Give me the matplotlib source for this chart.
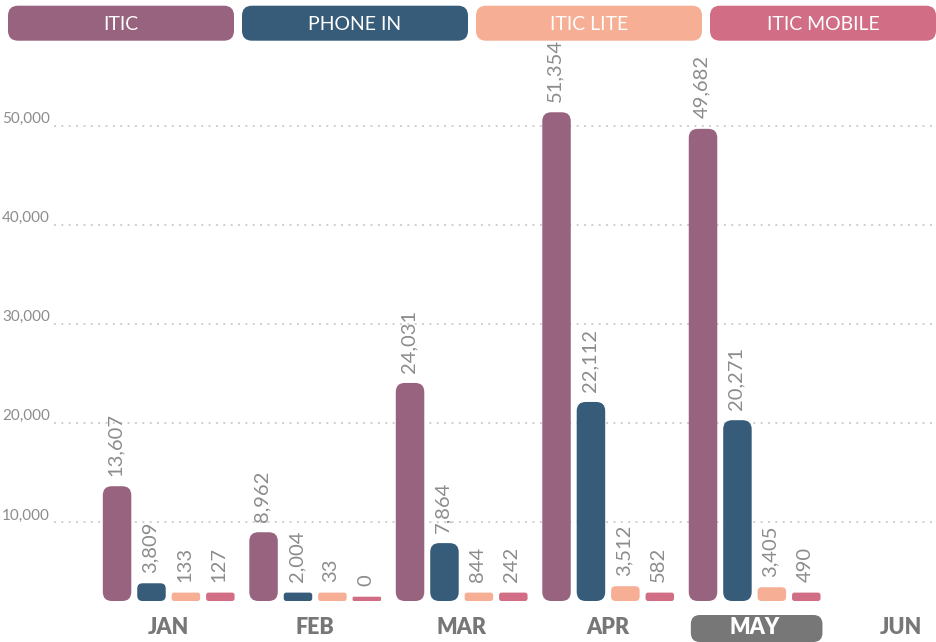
import matplotlib.pyplot as plt
from matplotlib.patches import FancyBboxPatch
from matplotlib.transforms import blended_transform_factory

months = ["JAN", "FEB", "MAR", "APR", "MAY", "JUN"]
series = ["ITIC", "PHONE IN", "ITIC LITE", "ITIC MOBILE"]
colors = ["#98637f", "#365c7a", "#f6ae94", "#d16d85"]
itic = [13607, 8962, 24031, 51354, 49682]
phone_in = [3809, 2004, 7864, 22112, 20271]
itic_lite = [133, 33, 844, 3512, 3405]
itic_mobile = [127, 0, 242, 582, 490]
yticks = [10000, 20000, 30000, 40000, 50000]
highlight = "MAY"

plt.rcParams["font.family"] = ["Lato", "DejaVu Sans"]
plt.rcParams["lines.scale_dashes"] = False

W, H = 936, 642
fig = plt.figure(figsize=(W / 100, H / 100), dpi=100)
ax = fig.add_axes([54 / W, 41 / H, 882 / W, 541 / H])
y0 = 2020
ax.set_xlim(-0.783, 5.238)
ax.set_ylim(y0, 56630)
ax.axis("off")

# pixels per month / per unit, used to keep corners round
(px0, py0), (px1, py1) = ax.transData.transform([(0, 0), (1, 10000)])
sx = px1 - px0
sy = (py1 - py0) / 10000

txtgray = "#8c8c8c"

# grid + y labels
ax.hlines(yticks, -0.783, 5.238, colors="#cfcfcf", linewidth=1.4,
          linestyles=[(0, (1.4, 3.9))], zorder=0)
ylab_tr = blended_transform_factory(ax.transAxes, ax.transData)
for t in yticks:
    ax.annotate(f"{t:,}", (0, t), xycoords=ylab_tr, xytext=(-3, 4.7),
                textcoords="offset points", ha="right", va="center",
                color=txtgray, fontsize=11, annotation_clip=False)

# bars
bw = 0.1945
step = 0.235
data = [itic, phone_in, itic_lite, itic_mobile]
for j, vals in enumerate(data):
    for i, v in enumerate(vals):
        x = i + (j - 1.5) * step
        minh = (4.3 if v == 0 else 8.4) / sy
        top = max(v, y0 + minh)
        h = top - y0
        h_px = h * sy
        r_px = min(9.0, h_px * 0.3)
        box = FancyBboxPatch((x - bw / 2, y0), bw, h,
                             boxstyle=f"round,pad=0,rounding_size={r_px / sx}",
                             mutation_aspect=sx / sy, facecolor=colors[j],
                             edgecolor="none", zorder=2)
        ax.add_patch(box)
        ax.annotate(f"{v:,}", (x, top), xytext=(-1, 7.5), textcoords="offset points",
                    rotation=90, ha="center", va="bottom", color=txtgray,
                    fontsize=14.5)

# month labels
mtr = blended_transform_factory(ax.transData, ax.transAxes)
ax_h = 541
for i, m in enumerate(months):
    c = "#777777"
    if m == highlight:
        pw = 131.6 / sx
        pill = FancyBboxPatch((i - pw / 2 + 2 / sx, -41 / ax_h), pw, 27 / ax_h,
                              boxstyle=f"round,pad=0,rounding_size={9 / sx}",
                              mutation_aspect=sx / ax_h, transform=mtr,
                              facecolor="#777777", edgecolor="none", clip_on=False)
        ax.add_patch(pill)
        c = "white"
    ax.annotate(m, (i, 0), xycoords=mtr, xytext=(0, -19), textcoords="offset points",
                ha="center", va="center", color=c, fontsize=15.5, fontweight="heavy",
                annotation_clip=False)

# legend pills at the top
gap = 8
pw = (W - 8 - 3 * gap) / 4
for j, name in enumerate(series):
    xl = 8 + j * (pw + gap)
    pill = FancyBboxPatch((xl / W, 1 - 40.7 / H), pw / W, 35 / H,
                          boxstyle=f"round,pad=0,rounding_size={10 / W}",
                          mutation_aspect=W / H, transform=fig.transFigure,
                          facecolor=colors[j], edgecolor="none")
    fig.patches.append(pill)
    fig.text((xl + pw / 2) / W, 1 - 24.5 / H, name, ha="center", va="center",
             color="white", fontsize=14)

fig.savefig("out.png", dpi=100)
